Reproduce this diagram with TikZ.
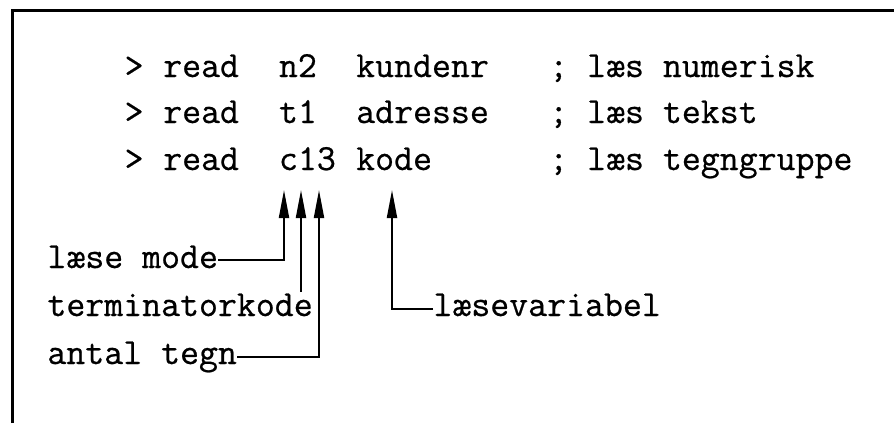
\documentclass[tikz,border=0pt]{standalone}
\usepackage{fontspec}
\setmonofont[FakeBold=0.6]{Latin Modern Mono}
\usetikzlibrary{arrows.meta}
\begin{document}
\begin{tikzpicture}[x=1pt,y=-1pt,
  txt/.style={anchor=base west,inner sep=0pt,font=\ttfamily\fontsize{36.8}{42}\selectfont},
  conn/.style={line width=2pt,line cap=butt,line join=miter},
  arr/.style={conn,-{Triangle[length=28pt,width=10pt]}},
  framel/.style={line width=3pt}]
\useasboundingbox (0,0) rectangle (894,423);
\fill[white] (0,0) rectangle (894,423);
% frame (top and left sides only)
\draw[framel] (12,423) -- (12,10) -- (894,10);
% code lines
\node[txt] (p1) at (124.4,77) {>};
\node[txt] (k1) at (163.0,77) {read};
\node[txt] (m1) at (278.8,77) {n2};
\node[txt] (v1) at (356.0,77) {kundenr};
\node[txt] (c1) at (549.0,77) {; læs numerisk};
\node[txt] (p2) at (124.4,123) {>};
\node[txt] (k2) at (163.0,123) {read};
\node[txt] (m2) at (278.8,123) {t1};
\node[txt] (v2) at (356.0,123) {adresse};
\node[txt] (c2) at (549.0,123) {; læs tekst};
\node[txt] (p3) at (124.4,170) {>};
\node[txt] (k3) at (163.0,170) {read};
\node[txt] (m3) at (278.8,170) {c13};
\node[txt] (v3) at (356.0,170) {kode};
\node[txt] (c3) at (549.0,170) {; læs tegngruppe};
% labels
\node[txt] (lm) at (47.2,268) {læse mode};
\node[txt] (tk) at (47.2,316) {terminatorkode};
\node[txt] (at) at (47.2,364) {antal tegn};
\node[txt] (lv) at (433.2,316) {læsevariabel};
% arrow tips
\coordinate (t1) at (284,190);
\coordinate (t2) at (301,190);
\coordinate (t3) at (319,190);
\coordinate (t4) at (392,190);
\coordinate (s2) at (301,292);
% connectors
\draw[arr] ([yshift=8pt]lm.base east) -| (t1);
\draw[arr] (s2) -- (t2);
\draw[arr] ([yshift=7pt]at.base east) -| (t3);
\draw[arr] ([yshift=7pt]lv.base west) -| (t4);
\end{tikzpicture}
\end{document}
